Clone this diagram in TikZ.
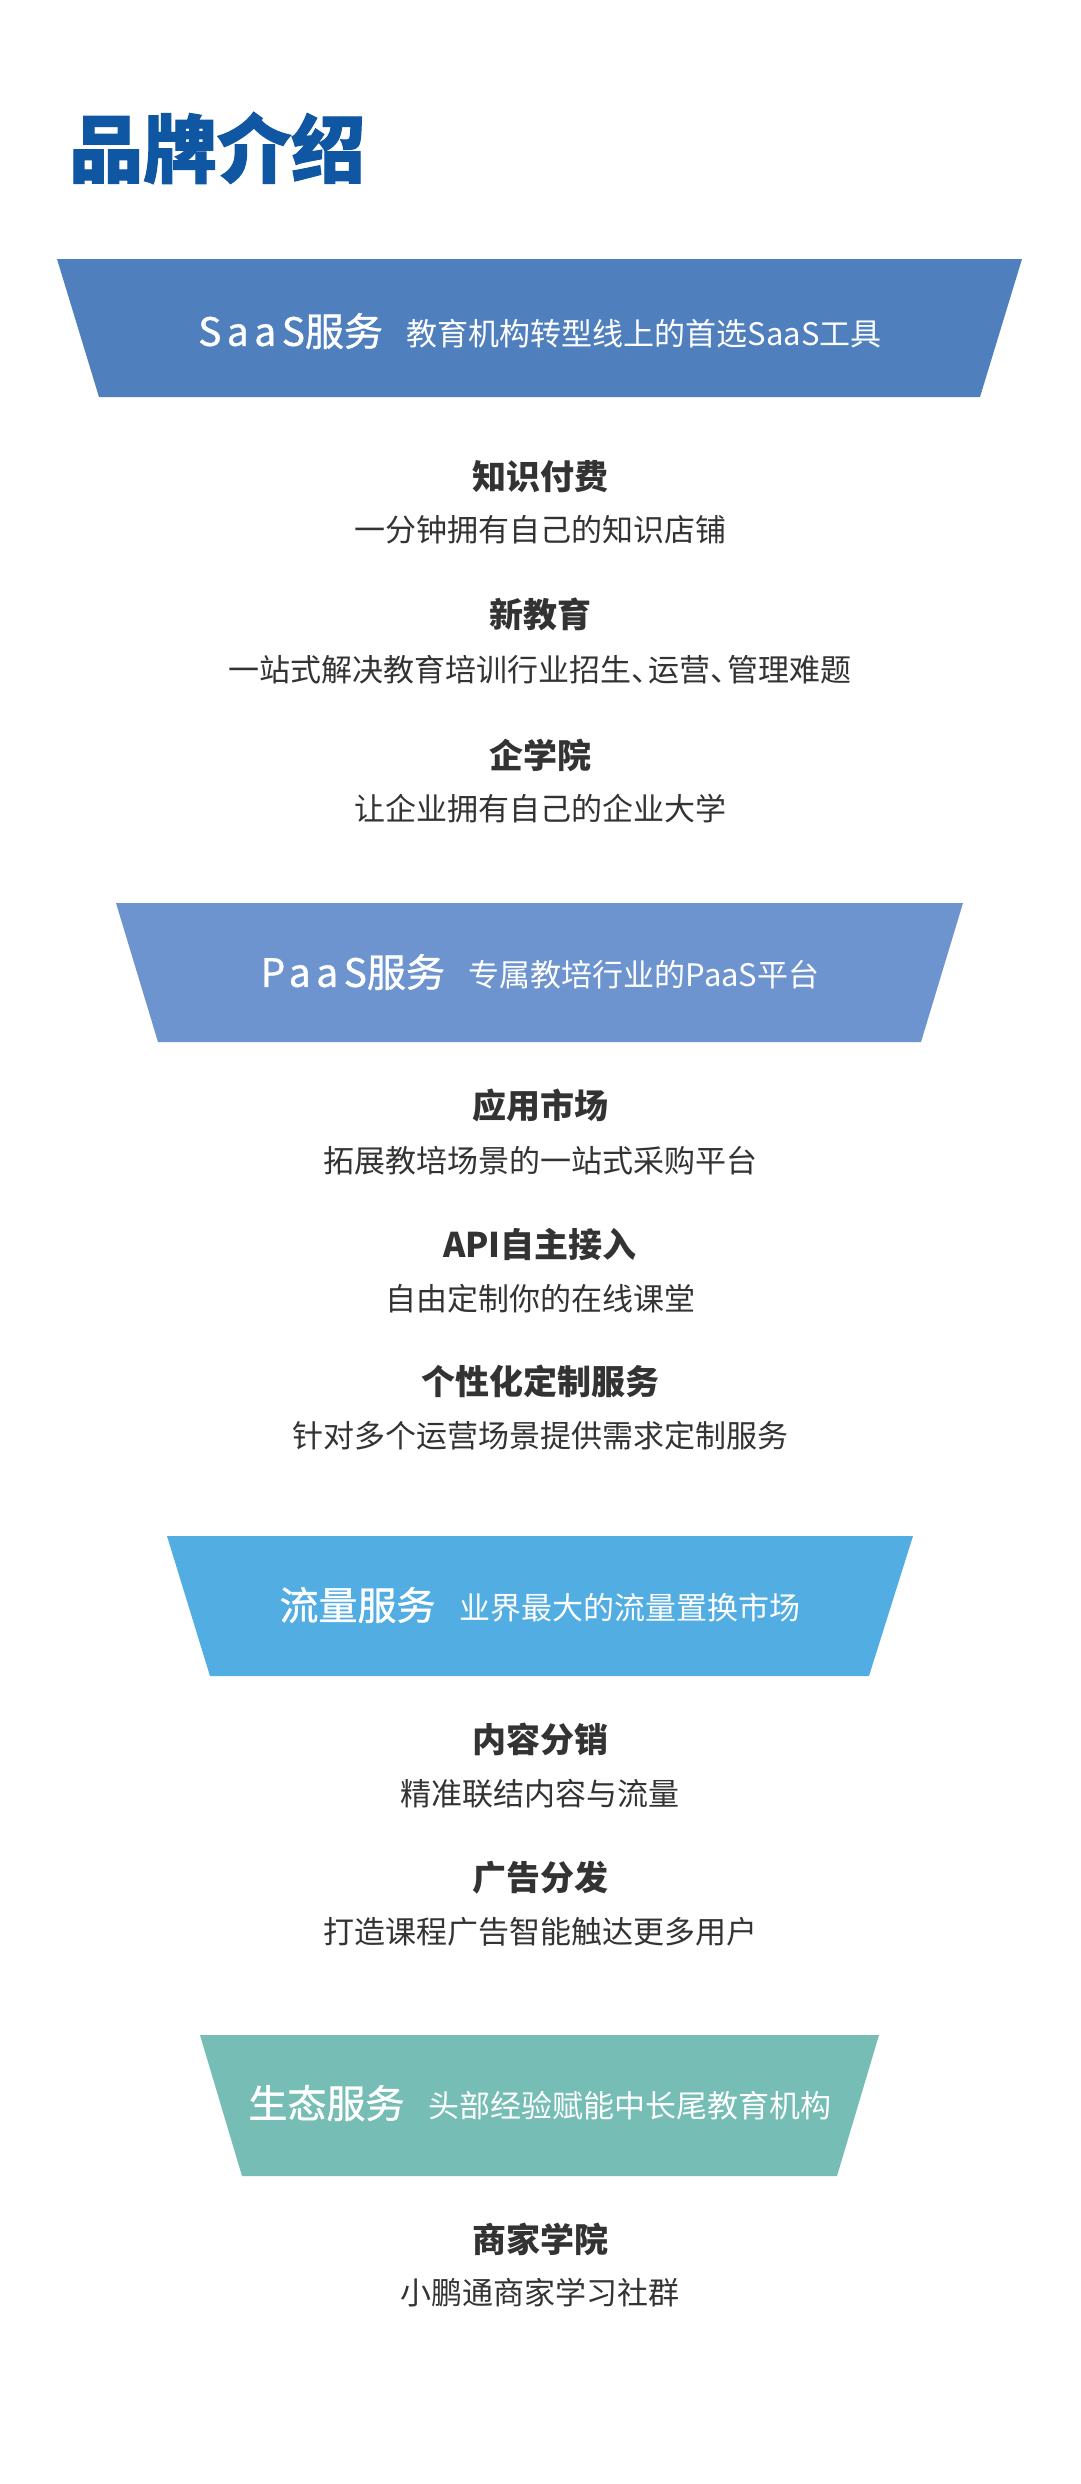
\documentclass[tikz,border=0pt]{standalone}
\usepackage{fontspec}
\setmainfont{Noto Sans CJK SC}
\usepackage{tkz-euclide}
\usetikzlibrary{calc}
\definecolor{TitleClr}{rgb}{0.06,0.34,0.64}
\definecolor{SaasClr}{rgb}{0.31,0.5,0.74}
\definecolor{PaasClr}{rgb}{0.43,0.58,0.81}
\definecolor{FlowClr}{rgb}{0.32,0.68,0.89}
\definecolor{EcoClr}{rgb}{0.46,0.74,0.71}
\definecolor{TextClr}{rgb}{0.2,0.2,0.2}
\newcommand{\fsz}[1]{\fontsize{#1}{#1}\selectfont}
\newcommand{\trk}[1]{{\addfontfeature{LetterSpace=14}#1}}
\newcommand{\barlab}[1]{{\fsz{39}\addfontfeature{FakeBold=1}#1}}
\newcommand{\barsub}[1]{{\fsz{31}#1}}
\newcommand{\dun}{\makebox[0.55em][l]{、}}

\begin{document}
\begin{tikzpicture}[x=1pt,y=-1pt,
  bartext/.style={text=white,inner sep=0pt},
  headtext/.style={text=TextClr,inner sep=0pt,font=\fsz{34}\bfseries},
  desctext/.style={text=TextClr,inner sep=0pt,font=\fsz{31}}]
\fill[white] (0,0) rectangle (1080,2484);
\useasboundingbox (0,0) rectangle (1080,2484);

\node[anchor=west,inner sep=0pt,text=TitleClr,font=\fsz{74}\bfseries\addfontfeature{FakeBold=1.5}] (title) at (69,148) {品牌介绍};

\tkzDefPoints{57/259/s1,1022/259/s2,980/397/s3,99/397/s4}
\tkzDefPoints{116/903/p1,963/903/p2,921/1042/p3,158/1042/p4}
\tkzDefPoints{167/1536/f1,913/1536/f2,869/1676/f3,210/1676/f4}
\tkzDefPoints{200/2035/e1,879/2035/e2,837/2176/e3,242/2176/e4}

\tkzFillPolygon[fill=SaasClr](s1,s2,s3,s4)
\tkzFillPolygon[fill=PaasClr](p1,p2,p3,p4)
\tkzFillPolygon[fill=FlowClr](f1,f2,f3,f4)
\tkzFillPolygon[fill=EcoClr](e1,e2,e3,e4)

% banner labels
\node[bartext] (saasbar) at (540,331) {\barlab{\trk{SaaS}服务}\hspace{24pt}\barsub{教育机构转型线上的首选SaaS工具}};
\node[bartext] (paasbar) at (540,972) {\barlab{\trk{PaaS}服务}\hspace{24pt}\barsub{专属教培行业的PaaS平台}};
\node[bartext] (flowbar) at (540,1605) {\barlab{流量服务}\hspace{24pt}\barsub{业界最大的流量置换市场}};
\node[bartext] (ecobar) at (540,2103) {\barlab{生态服务}\hspace{24pt}\barsub{头部经验赋能中长尾教育机构}};

% SaaS items
\node[headtext] (kpay) at (540,477) {知识付费};
\node[desctext] (kpaydesc) at (540,530) {一分钟拥有自己的知识店铺};
\node[headtext] (newedu) at (540,614) {新教育};
\node[desctext] (newedudesc) at (540,670) {一站式解决教育培训行业招生\dun 运营\dun 管理难题};
\node[headtext] (corpacad) at (540,755) {企学院};
\node[desctext] (corpacaddesc) at (540,809) {让企业拥有自己的企业大学};

% PaaS items
\node[headtext] (appmkt) at (540,1105) {应用市场};
\node[desctext] (appmktdesc) at (540,1161) {拓展教培场景的一站式采购平台};
\node[headtext] (api) at (540,1245) {API自主接入};
\node[desctext] (apidesc) at (540,1299) {自由定制你的在线课堂};
\node[headtext] (custom) at (540,1381) {个性化定制服务};
\node[desctext] (customdesc) at (540,1436) {针对多个运营场景提供需求定制服务};

% traffic items
\node[headtext] (content) at (540,1739) {内容分销};
\node[desctext] (contentdesc) at (540,1794) {精准联结内容与流量};
\node[headtext] (advert) at (540,1878) {广告分发};
\node[desctext] (advertdesc) at (540,1932) {打造课程广告智能触达更多用户};

% ecosystem items
\node[headtext] (bizacad) at (540,2239) {商家学院};
\node[desctext] (bizacaddesc) at (540,2293) {小鹏通商家学习社群};

\end{tikzpicture}
\end{document}
